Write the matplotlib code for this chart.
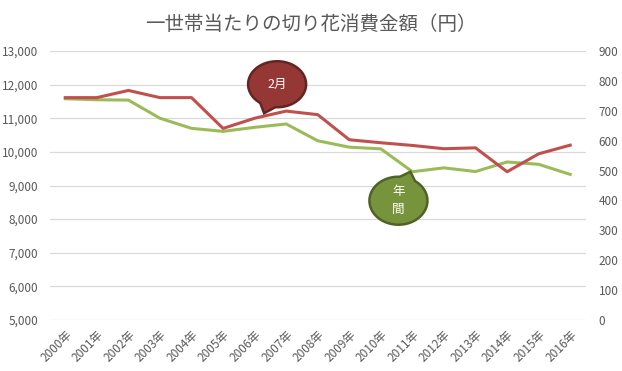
import numpy as np
import matplotlib
matplotlib.use("Agg")
import matplotlib.pyplot as plt
from matplotlib.patches import Polygon
from matplotlib.transforms import IdentityTransform


YEARS = ["2000年", "2001年", "2002年", "2003年", "2004年", "2005年", "2006年", "2007年", "2008年",
         "2009年", "2010年", "2011年", "2012年", "2013年", "2014年", "2015年", "2016年"]

# annual spend per household (left axis, yen)
ANNUAL = [11580, 11550, 11540, 11000, 10700, 10610, 10730, 10830, 10330,
          10140, 10090, 9410, 9525, 9415, 9700, 9630, 9330]

# February spend per household (right axis, yen)
FEBRUARY = [744, 744, 768, 744, 744, 641, 675, 699, 687,
            603, 593, 584, 573, 576, 496, 556, 585]

LEFT_TICKS = list(range(5000, 13001, 1000))
RIGHT_TICKS = list(range(0, 901, 100))

TITLE = "一世帯当たりの切り花消費金額（円）"

FONTS = ["Noto Sans CJK JP", "DejaVu Sans"]
TEXT_GRAY = "#595959"
GRID_GRAY = "#D9D9D9"
RED = "#C0504D"
GREEN = "#9BBB59"

plt.rcParams["font.family"] = FONTS


# Draw an Excel-like speech bubble whose tail points at a data point
def draw_bubble(fig, ax, x, y, tip_shift, center_shift, half_w, half_h, text, face, edge, fontsize=9):
  tip = ax.transData.transform((x, y)) + np.array(tip_shift)
  center = tip + np.array(center_shift)

  # angle of the tail seen from the center, in ellipse-normalised space
  rel = (tip - center) / np.array([half_w, half_h])
  phi = np.arctan2(rel[1], rel[0])
  gap = 0.28

  pts = []
  for t in np.linspace(phi + gap, phi + 2 * np.pi - gap, 120):
    pts.append(center + np.array([half_w * np.cos(t), half_h * np.sin(t)]))
  pts.append(tip)

  poly = Polygon(np.array(pts), closed=True, facecolor=face, edgecolor=edge,
                 linewidth=1.8, transform=IdentityTransform(), zorder=10)
  fig.add_artist(poly)

  fx, fy = fig.transFigure.inverted().transform(center)
  fig.text(fx, fy, text, color="white", fontsize=fontsize, ha="center", va="center",
           linespacing=1.5, zorder=11)


def plot_chart():
  fig = plt.figure(figsize=(6.22, 3.71), dpi=100)
  ax = fig.add_axes([49.5 / 622, 51 / 371, 536.5 / 622, 269 / 371])
  ax2 = ax.twinx()

  x = np.arange(len(YEARS))

  ax.set_xlim(-0.5, len(YEARS) - 0.5)
  ax.set_ylim(LEFT_TICKS[0], LEFT_TICKS[-1])
  ax2.set_ylim(RIGHT_TICKS[0], RIGHT_TICKS[-1])

  ax.set_yticks(LEFT_TICKS)
  ax.set_yticklabels([f"{v:,}" for v in LEFT_TICKS])
  ax2.set_yticks(RIGHT_TICKS)
  ax2.set_yticklabels([str(v) for v in RIGHT_TICKS])

  ax.set_xticks(x)
  ax.set_xticklabels(YEARS, rotation=45, ha="right", rotation_mode="anchor")

  ax.grid(axis="y", color=GRID_GRAY, linewidth=0.9)
  ax.set_axisbelow(True)

  for a in (ax, ax2):
    for s in a.spines.values():
      s.set_visible(False)
    a.tick_params(length=0, labelsize=8.5, labelcolor=TEXT_GRAY)
  ax.tick_params(axis="y", pad=8)
  ax2.tick_params(axis="y", pad=9)
  ax.tick_params(axis="x", pad=6)

  ax.plot(x, ANNUAL, color=GREEN, linewidth=2.2, zorder=3)
  ax2.plot(x, FEBRUARY, color=RED, linewidth=2.2, zorder=3)

  fig.text(0.5, 1 - 25 / 371, TITLE, ha="center", va="center", fontsize=14, color=TEXT_GRAY)

  # callouts
  draw_bubble(fig, ax2, 6.3, FEBRUARY[6], (0, 5), (13, 29), 29, 23, "2月", "#953735", "#632523")
  draw_bubble(fig, ax, 11, ANNUAL[11], (-2, 0), (-12, -29), 29, 24, "年\n間", "#77933C", "#4F6228")

  fig.savefig("out.png", dpi=100)
  plt.close(fig)


if __name__ == "__main__":
  plot_chart()
